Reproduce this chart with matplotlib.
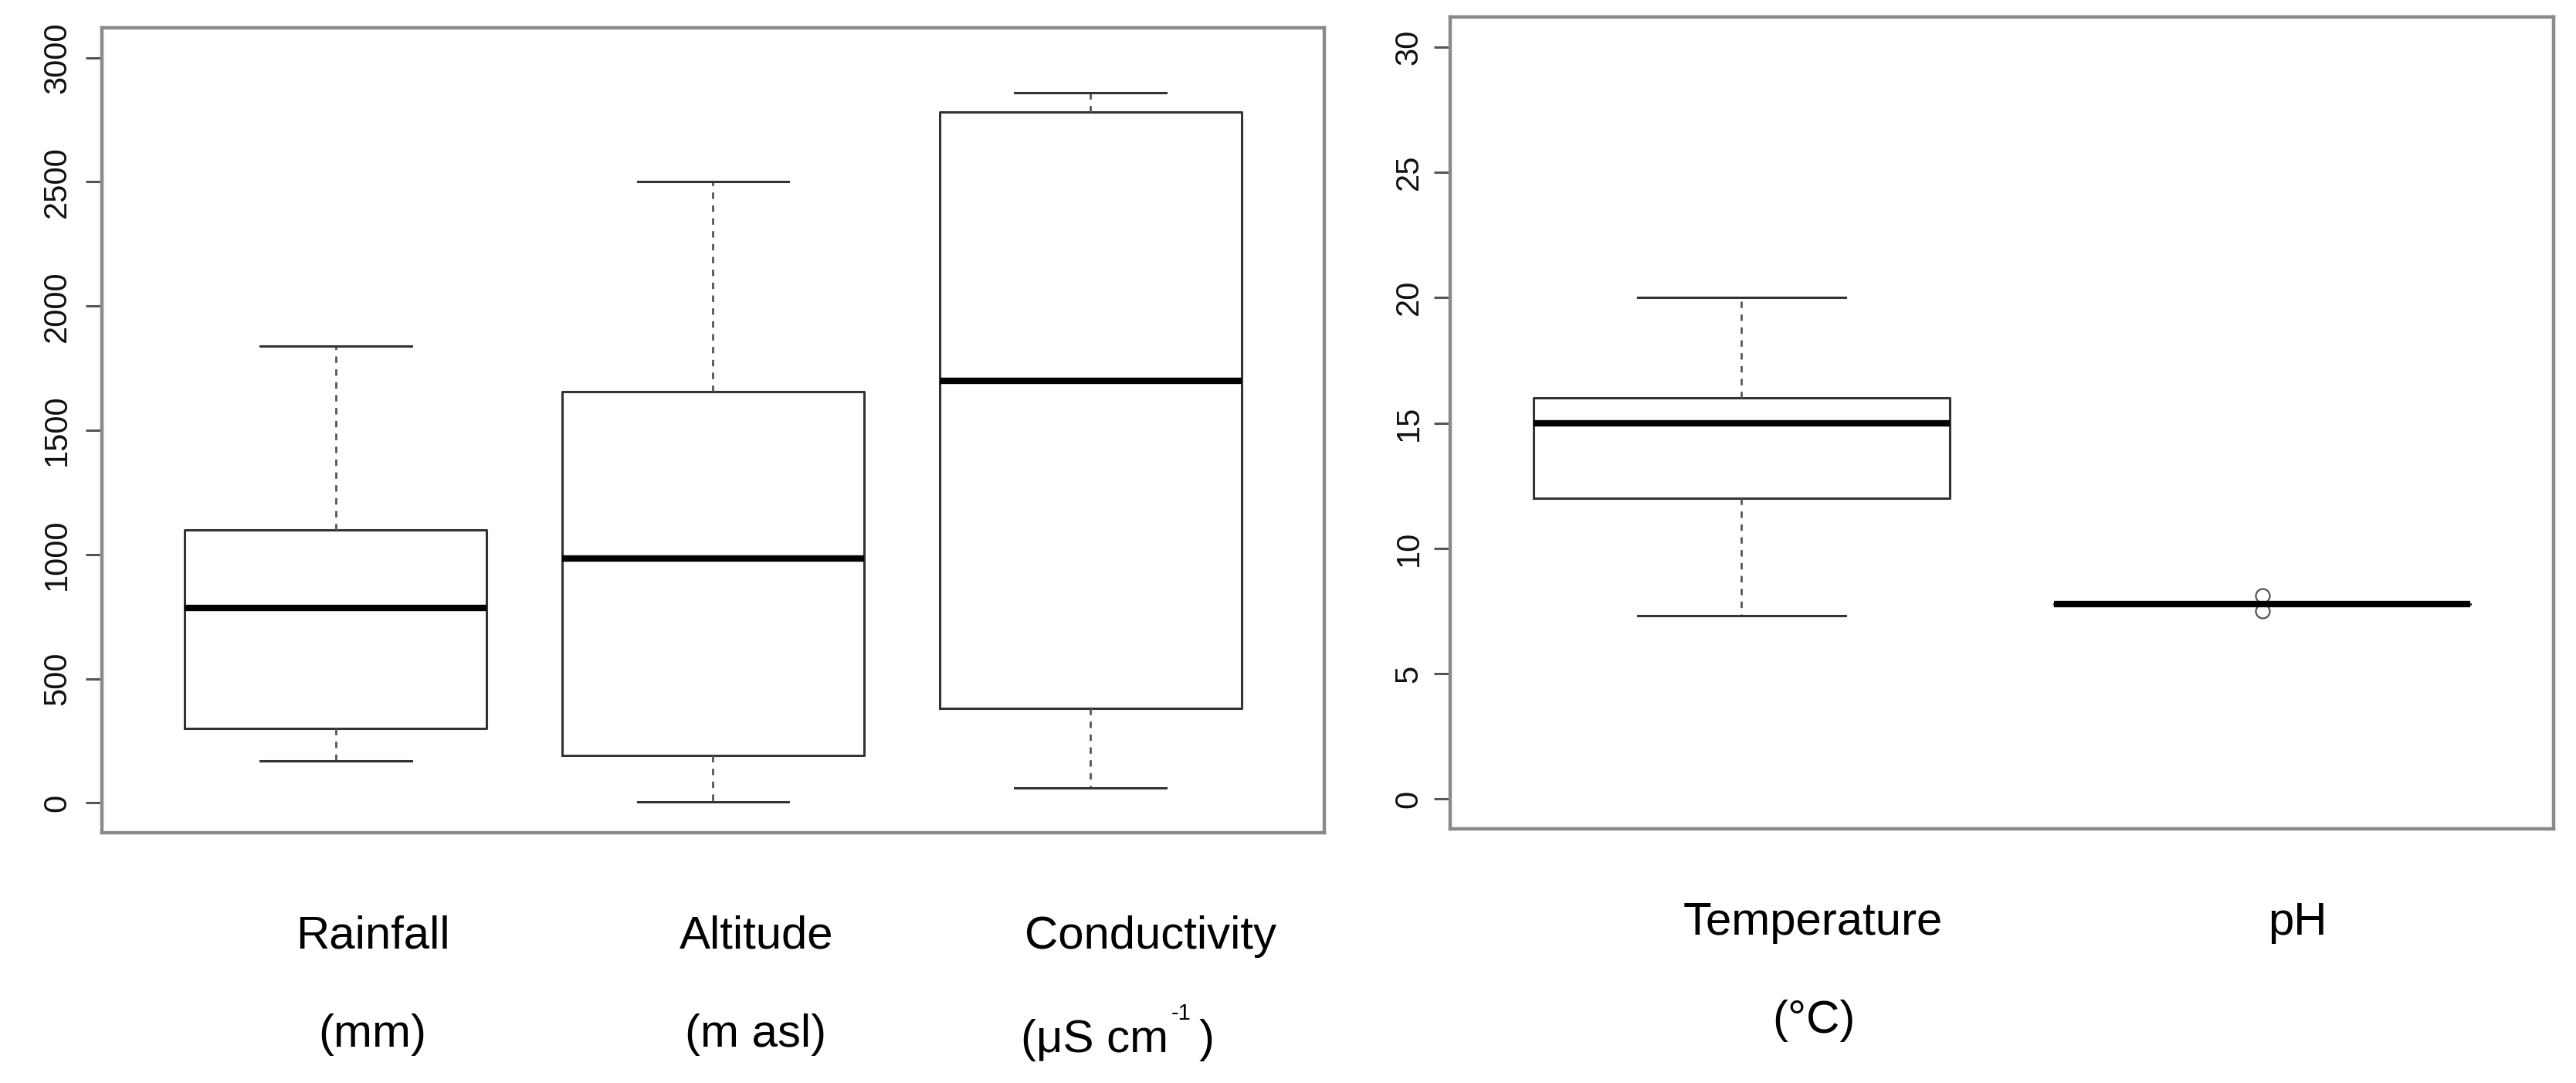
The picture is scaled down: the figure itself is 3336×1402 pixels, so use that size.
import numpy as np
import matplotlib
matplotlib.use("Agg")
import matplotlib.pyplot as plt

plt.rcParams["font.family"] = ["Liberation Sans", "DejaVu Sans"]

# left panel: box statistics
left_names = ["Rainfall", "Altitude", "Conductivity"]
left_whislo = [170, 5, 60]
left_q1 = [300, 190, 380]
left_med = [785, 985, 1700]
left_q3 = [1100, 1655, 2780]
left_whishi = [1840, 2500, 2860]
left_ticks = [0, 500, 1000, 1500, 2000, 2500, 3000]

# right panel
right_names = ["Temperature", "pH"]
right_whislo = [7.3, 7.78]
right_q1 = [12.0, 7.78]
right_med = [15.0, 7.78]
right_q3 = [16.0, 7.78]
right_whishi = [20.0, 7.78]
right_fliers = [[], [8.1, 7.48]]
right_ticks = [0, 5, 10, 15, 20, 25, 30]

W, H = 3336, 1402
DPI = 200
fig = plt.figure(figsize=(W / DPI, H / DPI), dpi=DPI)
fig.patch.set_facecolor("white")


def px_axes(x0, y0, x1, y1):
    # pixel box (top-left origin) -> figure fraction
    return fig.add_axes([x0 / W, 1 - y1 / H, (x1 - x0) / W, (y1 - y0) / H])


def make_stats(lo, q1, med, q3, hi, fl=None):
    out = []
    for i in range(len(med)):
        out.append(dict(whislo=lo[i], q1=q1[i], med=med[i], q3=q3[i],
                        whishi=hi[i], fliers=(fl[i] if fl else [])))
    return out


def style_ax(ax, ticks, pad):
    for sp in ax.spines.values():
        sp.set_color("#8a8a8a")
        sp.set_linewidth(1.6)
    ax.set_xticks([])
    ax.set_yticks(ticks)
    ax.tick_params(axis="y", length=7.6, width=1.1, color="#555555",
                   labelsize=15, labelcolor="#111111", pad=pad)
    for lab in ax.get_yticklabels():
        lab.set_rotation(90)
        lab.set_va("center")


box_kw = dict(
    widths=0.8, capwidths=0.4, patch_artist=False,
    boxprops=dict(color="#333333", linewidth=1.1),
    whiskerprops=dict(color="#555555", linewidth=1.0, linestyle=(0, (3, 3))),
    capprops=dict(color="#333333", linewidth=1.1),
    medianprops=dict(color="black", linewidth=3.0, solid_capstyle="butt"),
    flierprops=dict(marker="o", markerfacecolor="none", markeredgecolor="#555555",
                    markersize=6.5, markeredgewidth=0.8),
)

# left panel
ax1 = px_axes(132, 36, 1715, 1078)
ax1.bxp(make_stats(left_whislo, left_q1, left_med, left_q3, left_whishi),
        positions=np.arange(1, len(left_names) + 1), **box_kw)
ax1.set_xlim(0.38, 3.62)
ax1.set_ylim(-120, 3120)
style_ax(ax1, left_ticks, 6)

# right panel
ax2 = px_axes(1878, 22, 3307, 1073)
ax2.bxp(make_stats(right_whislo, right_q1, right_med, right_q3, right_whishi, right_fliers),
        positions=np.arange(1, len(right_names) + 1), **box_kw)
ax2.set_xlim(0.44, 2.56)
ax2.set_ylim(-1.2, 31.2)
style_ax(ax2, right_ticks, 4.5)

# category labels under the panels
lab_size = 21.6
lab_x = [483, 980, 1490, 2348, 2975]
lab_y = [1228, 1228, 1228, 1210, 1210]
for name, x, y in zip(left_names + right_names, lab_x, lab_y):
    fig.text(x / W, 1 - y / H, name, ha="center", va="baseline", fontsize=lab_size)

unit_texts = ["(mm)", "(m asl)", "(°C)"]
unit_x = [482, 979, 2349]
unit_y = [1355, 1355, 1337]
for u, x, y in zip(unit_texts, unit_x, unit_y):
    fig.text(x / W, 1 - y / H, u, ha="center", va="baseline", fontsize=lab_size)

# conductivity unit with superscript
fig.text(1322 / W, 1 - 1362 / H, "(\u03bcS cm", ha="left", va="baseline", fontsize=lab_size)
fig.text(1517 / W, 1 - 1320 / H, "-1", ha="left", va="baseline", fontsize=10.5)
fig.text(1553 / W, 1 - 1362 / H, ")", ha="left", va="baseline", fontsize=lab_size)

fig.savefig("out.png", dpi=DPI, facecolor="white")
